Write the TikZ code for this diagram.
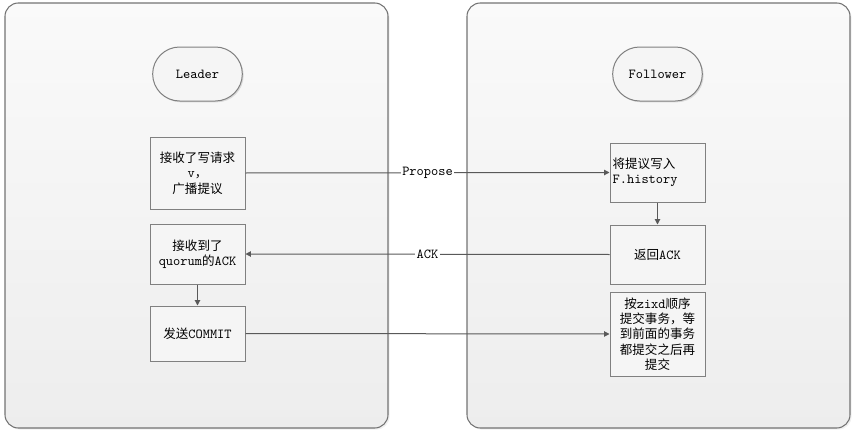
\documentclass[tikz,border=0pt]{standalone}
\usepackage{fontspec}
\newfontfamily\cjk{Noto Sans CJK SC}
\usetikzlibrary{arrows.meta, shadows, shapes.misc}
\newcommand{\panelcolor}{black!55}
\newcommand{\boxcolor}{black!50}
\newcommand{\arrowcolor}{black!65}
\newcommand{\zh}[1]{{\cjk\fontsize{9.4}{11.25}\selectfont #1}}
\tikzset{panel/.style={draw=\panelcolor, line width=0.8pt, rounded corners=10pt,
		top color=black!2, bottom color=black!7,
		drop shadow={opacity=0.12, shadow xshift=1.2pt, shadow yshift=-1.2pt}},
	stepbox/.style={draw=\boxcolor, line width=0.75pt, fill=black!4, minimum width=71.25pt,
		inner sep=2pt, align=center, font=\ttfamily\fontsize{10.3}{11.5}\selectfont,
		drop shadow={opacity=0.25, shadow xshift=1pt, shadow yshift=-1pt}},
	rolebox/.style={stepbox, rounded rectangle, minimum height=40.5pt},
	flow/.style={draw=\arrowcolor, line width=0.75pt, -{Triangle[length=4pt,width=4pt]}},
	lbl/.style={fill=white, inner sep=1pt, font=\ttfamily\fontsize{10.3}{11}\selectfont}}

\begin{document}
\begin{tikzpicture}[x=0.75pt, y=-0.75pt]
	\useasboundingbox (0,0) rectangle (858,432);
	\path[panel] (5,3) rectangle (388,428);
	\path[panel] (467,3) rectangle (850,428);
	%%
	\node[rolebox] (lead) at (197.5,74) {Leader};
	\node[rolebox] (foll) at (657.5,74) {Follower};
	%%
	\node[stepbox, minimum height=54pt] (recv) at (197.5,173) {\zh{接收了写请求}\\v\zh{，}\\\zh{广播提议}};
	\node[stepbox, minimum height=45pt] (quor) at (197.5,254) {\zh{接收到了}\\quorum\zh{的}ACK};
	\node[stepbox, minimum height=41.25pt] (comm) at (197.5,333.5) {\zh{发送}COMMIT};
	%%
	\node[stepbox, minimum height=44.25pt, align=left, text width=67.25pt] (hist) at (657.5,172.5) {\zh{将提议写入}\\F.history};
	\node[stepbox, minimum height=44.25pt] (back) at (657.5,254.5) {\zh{返回}ACK};
	\node[stepbox, minimum height=63pt] (seq) at (657.5,334) {\zh{按}zixd\zh{顺序}\\\zh{提交事务，等}\\\zh{到前面的事务}\\\zh{都提交之后再}\\\zh{提交}};
	%%
	\draw[flow] (recv.east) -- node[lbl] {Propose} (hist.west);
	\draw[flow] (back.west) -- node[lbl] {ACK} (quor.east);
	\draw[flow] (comm.east) -- (seq.west);
	\draw[flow] (quor.south) -- (comm.north);
	\draw[flow] (hist.south) -- (back.north);
\end{tikzpicture}
\end{document}
